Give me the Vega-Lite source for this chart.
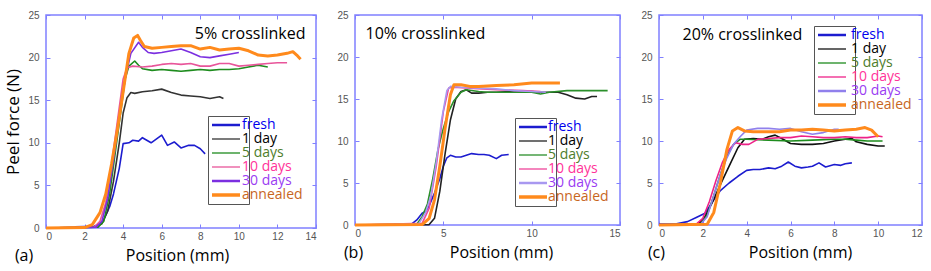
{
  "$schema": "https://vega.github.io/schema/vega-lite/v6.json",
  "background": "white",
  "padding": {"left": 4, "top": 9, "right": 0, "bottom": 0},
  "spacing": 18,
  "align": "none",
  "resolve": {"scale": {"color": "independent", "shape": "independent"}, "legend": {"color": "independent", "shape": "independent"}},
  "config": {
    "view": {"stroke": "#8080ff", "strokeWidth": 1.5},
    "axis": {"domain": false, "grid": false, "tickColor": "#8080ff", "tickSize": -4, "tickWidth": 1, "labelFont": "Liberation Sans", "labelFontSize": 10, "labelColor": "#555555", "titleFont": "Open Sans", "titleFontWeight": "normal", "titleColor": "#000000", "titleFontSize": 16},
    "axisBottom": {"labelPadding": 7, "titlePadding": 6},
    "axisLeft": {"labelPadding": 11, "titlePadding": 5, "titleFontSize": 17},
    "legend": {"labelFont": "Open Sans", "labelFontSize": 14, "rowPadding": 0, "symbolSize": 100},
    "title": {"font": "Open Sans", "fontSize": 16, "fontWeight": "normal", "color": "#000000"}
  },
  "datasets": {
    "a": [
      {"series":"fresh","pos":1.5,"force":0.15},{"series":"fresh","pos":2.5,"force":0.2},{"series":"fresh","pos":2.8,"force":0.5},{"series":"fresh","pos":3.0,"force":1.0},{"series":"fresh","pos":3.3,"force":2.5},{"series":"fresh","pos":3.5,"force":4},{"series":"fresh","pos":3.8,"force":7},{"series":"fresh","pos":4.0,"force":9.9},{"series":"fresh","pos":4.3,"force":10.0},{"series":"fresh","pos":4.5,"force":10.3},{"series":"fresh","pos":4.8,"force":10.2},{"series":"fresh","pos":5.0,"force":10.6},{"series":"fresh","pos":5.45,"force":10.0},{"series":"fresh","pos":6.0,"force":10.9},{"series":"fresh","pos":6.3,"force":9.7},{"series":"fresh","pos":6.65,"force":10.1},{"series":"fresh","pos":7.0,"force":9.4},{"series":"fresh","pos":7.4,"force":9.7},{"series":"fresh","pos":7.7,"force":9.7},{"series":"fresh","pos":8.0,"force":9.3},{"series":"fresh","pos":8.25,"force":8.7},
      {"series":"1 day","pos":0,"force":0},{"series":"1 day","pos":2.5,"force":0.1},{"series":"1 day","pos":2.9,"force":0.5},{"series":"1 day","pos":3.2,"force":2},{"series":"1 day","pos":3.5,"force":5.5},{"series":"1 day","pos":3.8,"force":10},{"series":"1 day","pos":4.0,"force":13.5},{"series":"1 day","pos":4.2,"force":15.3},{"series":"1 day","pos":4.4,"force":15.9},{"series":"1 day","pos":4.6,"force":15.8},{"series":"1 day","pos":5.0,"force":16.0},{"series":"1 day","pos":5.5,"force":16.1},{"series":"1 day","pos":6.0,"force":16.3},{"series":"1 day","pos":6.5,"force":15.9},{"series":"1 day","pos":7.0,"force":15.6},{"series":"1 day","pos":7.5,"force":15.5},{"series":"1 day","pos":8.0,"force":15.4},{"series":"1 day","pos":8.5,"force":15.2},{"series":"1 day","pos":9.0,"force":15.4},{"series":"1 day","pos":9.2,"force":15.2},
      {"series":"5 days","pos":0,"force":0},{"series":"5 days","pos":2.7,"force":0.1},{"series":"5 days","pos":3.0,"force":0.8},{"series":"5 days","pos":3.3,"force":4},{"series":"5 days","pos":3.6,"force":9},{"series":"5 days","pos":3.9,"force":14},{"series":"5 days","pos":4.1,"force":17.5},{"series":"5 days","pos":4.3,"force":19},{"series":"5 days","pos":4.6,"force":19.6},{"series":"5 days","pos":4.8,"force":19.1},{"series":"5 days","pos":5.0,"force":18.7},{"series":"5 days","pos":5.5,"force":18.5},{"series":"5 days","pos":6.0,"force":18.6},{"series":"5 days","pos":6.5,"force":18.5},{"series":"5 days","pos":7.0,"force":18.4},{"series":"5 days","pos":7.5,"force":18.5},{"series":"5 days","pos":8.0,"force":18.6},{"series":"5 days","pos":8.5,"force":18.5},{"series":"5 days","pos":9.0,"force":18.6},{"series":"5 days","pos":9.5,"force":18.6},{"series":"5 days","pos":10.0,"force":18.7},{"series":"5 days","pos":10.5,"force":18.9},{"series":"5 days","pos":11.0,"force":19.1},{"series":"5 days","pos":11.5,"force":18.9},
      {"series":"10 days","pos":0,"force":0},{"series":"10 days","pos":2.5,"force":0.1},{"series":"10 days","pos":2.8,"force":0.8},{"series":"10 days","pos":3.1,"force":3},{"series":"10 days","pos":3.4,"force":7.5},{"series":"10 days","pos":3.7,"force":12.5},{"series":"10 days","pos":4.0,"force":17.5},{"series":"10 days","pos":4.2,"force":18.8},{"series":"10 days","pos":4.5,"force":19.0},{"series":"10 days","pos":5.0,"force":18.9},{"series":"10 days","pos":5.5,"force":19.0},{"series":"10 days","pos":6.0,"force":19.2},{"series":"10 days","pos":6.5,"force":19.3},{"series":"10 days","pos":7.0,"force":19.2},{"series":"10 days","pos":7.5,"force":19.3},{"series":"10 days","pos":8.0,"force":19.0},{"series":"10 days","pos":8.5,"force":19.0},{"series":"10 days","pos":9.0,"force":19.3},{"series":"10 days","pos":9.5,"force":19.3},{"series":"10 days","pos":10.0,"force":19.0},{"series":"10 days","pos":10.5,"force":19.1},{"series":"10 days","pos":11.0,"force":19.2},{"series":"10 days","pos":11.5,"force":19.3},{"series":"10 days","pos":12.0,"force":19.4},{"series":"10 days","pos":12.5,"force":19.4},
      {"series":"30 days","pos":0,"force":0},{"series":"30 days","pos":2.6,"force":0.1},{"series":"30 days","pos":2.9,"force":0.8},{"series":"30 days","pos":3.2,"force":3.5},{"series":"30 days","pos":3.5,"force":8},{"series":"30 days","pos":3.8,"force":13},{"series":"30 days","pos":4.1,"force":17.5},{"series":"30 days","pos":4.4,"force":20.5},{"series":"30 days","pos":4.8,"force":21.8},{"series":"30 days","pos":5.0,"force":21.2},{"series":"30 days","pos":5.3,"force":20.6},{"series":"30 days","pos":5.6,"force":20.5},{"series":"30 days","pos":6.0,"force":20.6},{"series":"30 days","pos":6.5,"force":20.8},{"series":"30 days","pos":7.0,"force":21.0},{"series":"30 days","pos":7.5,"force":20.6},{"series":"30 days","pos":8.0,"force":20.1},{"series":"30 days","pos":8.5,"force":20.0},{"series":"30 days","pos":9.0,"force":20.2},{"series":"30 days","pos":9.5,"force":20.4},{"series":"30 days","pos":10.0,"force":20.6},
      {"series":"annealed","pos":0,"force":0},{"series":"annealed","pos":2.0,"force":0.05},{"series":"annealed","pos":2.4,"force":0.4},{"series":"annealed","pos":2.8,"force":1.8},{"series":"annealed","pos":3.1,"force":4},{"series":"annealed","pos":3.4,"force":7.5},{"series":"annealed","pos":3.7,"force":11.5},{"series":"annealed","pos":4.0,"force":16},{"series":"annealed","pos":4.3,"force":20.5},{"series":"annealed","pos":4.55,"force":22.3},{"series":"annealed","pos":4.75,"force":22.6},{"series":"annealed","pos":4.9,"force":22.0},{"series":"annealed","pos":5.1,"force":21.3},{"series":"annealed","pos":5.5,"force":21.1},{"series":"annealed","pos":6.0,"force":21.2},{"series":"annealed","pos":6.5,"force":21.3},{"series":"annealed","pos":7.0,"force":21.4},{"series":"annealed","pos":7.5,"force":21.4},{"series":"annealed","pos":8.0,"force":21.0},{"series":"annealed","pos":8.5,"force":21.2},{"series":"annealed","pos":9.0,"force":20.9},{"series":"annealed","pos":9.5,"force":21.0},{"series":"annealed","pos":10.0,"force":21.1},{"series":"annealed","pos":10.5,"force":20.8},{"series":"annealed","pos":11.0,"force":20.3},{"series":"annealed","pos":11.5,"force":20.2},{"series":"annealed","pos":12.0,"force":20.3},{"series":"annealed","pos":12.5,"force":20.5},{"series":"annealed","pos":12.8,"force":20.7},{"series":"annealed","pos":13.0,"force":20.3},{"series":"annealed","pos":13.2,"force":19.8}
    ],
    "b": [
      {"series":"fresh","pos":2.2,"force":0.1},{"series":"fresh","pos":3.2,"force":0.1},{"series":"fresh","pos":3.5,"force":0.6},{"series":"fresh","pos":3.8,"force":1.4},{"series":"fresh","pos":4.0,"force":1.6},{"series":"fresh","pos":4.2,"force":2.3},{"series":"fresh","pos":4.5,"force":3.8},{"series":"fresh","pos":4.8,"force":5.5},{"series":"fresh","pos":5.0,"force":7.0},{"series":"fresh","pos":5.2,"force":8.0},{"series":"fresh","pos":5.4,"force":8.3},{"series":"fresh","pos":5.7,"force":8.1},{"series":"fresh","pos":6.0,"force":8.1},{"series":"fresh","pos":6.3,"force":8.3},{"series":"fresh","pos":6.6,"force":8.5},{"series":"fresh","pos":7.0,"force":8.4},{"series":"fresh","pos":7.3,"force":8.4},{"series":"fresh","pos":7.6,"force":8.3},{"series":"fresh","pos":8.0,"force":7.9},{"series":"fresh","pos":8.3,"force":8.3},{"series":"fresh","pos":8.7,"force":8.4},
      {"series":"1 day","pos":0,"force":0},{"series":"1 day","pos":4.2,"force":0.05},{"series":"1 day","pos":4.5,"force":0.8},{"series":"1 day","pos":4.8,"force":4},{"series":"1 day","pos":5.1,"force":8.5},{"series":"1 day","pos":5.4,"force":12.5},{"series":"1 day","pos":5.7,"force":15},{"series":"1 day","pos":6.0,"force":15.9},{"series":"1 day","pos":6.3,"force":16.1},{"series":"1 day","pos":6.6,"force":15.7},{"series":"1 day","pos":7.0,"force":15.7},{"series":"1 day","pos":7.5,"force":15.8},{"series":"1 day","pos":8.0,"force":15.8},{"series":"1 day","pos":9.0,"force":15.9},{"series":"1 day","pos":10.0,"force":15.9},{"series":"1 day","pos":10.5,"force":15.8},{"series":"1 day","pos":11.0,"force":15.8},{"series":"1 day","pos":11.5,"force":15.8},{"series":"1 day","pos":12.0,"force":15.5},{"series":"1 day","pos":12.5,"force":15.1},{"series":"1 day","pos":13.0,"force":15.0},{"series":"1 day","pos":13.4,"force":15.3},{"series":"1 day","pos":13.7,"force":15.3},
      {"series":"5 days","pos":0,"force":0},{"series":"5 days","pos":3.5,"force":0.1},{"series":"5 days","pos":3.8,"force":1},{"series":"5 days","pos":4.1,"force":2.5},{"series":"5 days","pos":4.4,"force":5.5},{"series":"5 days","pos":4.7,"force":9},{"series":"5 days","pos":5.0,"force":11.5},{"series":"5 days","pos":5.3,"force":13.5},{"series":"5 days","pos":5.6,"force":14.8},{"series":"5 days","pos":6.0,"force":15.8},{"series":"5 days","pos":6.3,"force":16.1},{"series":"5 days","pos":7.0,"force":15.9},{"series":"5 days","pos":7.5,"force":15.8},{"series":"5 days","pos":8.0,"force":15.8},{"series":"5 days","pos":9.0,"force":15.8},{"series":"5 days","pos":10.0,"force":15.8},{"series":"5 days","pos":10.5,"force":15.6},{"series":"5 days","pos":11.0,"force":15.8},{"series":"5 days","pos":12.0,"force":16.0},{"series":"5 days","pos":13.0,"force":16.0},{"series":"5 days","pos":14.3,"force":16.0},
      {"series":"10 days","pos":0,"force":0},{"series":"10 days","pos":3.8,"force":0.2},{"series":"10 days","pos":4.2,"force":2},{"series":"10 days","pos":4.6,"force":7},{"series":"10 days","pos":5.0,"force":13.5},{"series":"10 days","pos":5.3,"force":16.3},{"series":"10 days","pos":5.6,"force":16.4},{"series":"10 days","pos":6.5,"force":16.3},{"series":"10 days","pos":8.0,"force":16.1},{"series":"10 days","pos":9.5,"force":16.0},{"series":"10 days","pos":10.5,"force":15.9},
      {"series":"30 days","pos":0,"force":0},{"series":"30 days","pos":3.6,"force":0.1},{"series":"30 days","pos":4.0,"force":1.5},{"series":"30 days","pos":4.3,"force":3.5},{"series":"30 days","pos":4.6,"force":7.5},{"series":"30 days","pos":4.9,"force":12.5},{"series":"30 days","pos":5.2,"force":16.0},{"series":"30 days","pos":5.4,"force":16.5},{"series":"30 days","pos":6.0,"force":16.4},{"series":"30 days","pos":7.0,"force":16.3},{"series":"30 days","pos":8.0,"force":16.2},{"series":"30 days","pos":9.0,"force":16.0},{"series":"30 days","pos":10.0,"force":15.9},{"series":"30 days","pos":10.8,"force":15.8},
      {"series":"annealed","pos":0,"force":0},{"series":"annealed","pos":3.8,"force":0.05},{"series":"annealed","pos":4.2,"force":0.8},{"series":"annealed","pos":4.5,"force":3},{"series":"annealed","pos":4.8,"force":7},{"series":"annealed","pos":5.1,"force":11.5},{"series":"annealed","pos":5.4,"force":15.5},{"series":"annealed","pos":5.6,"force":16.7},{"series":"annealed","pos":6.0,"force":16.7},{"series":"annealed","pos":6.5,"force":16.5},{"series":"annealed","pos":7.0,"force":16.5},{"series":"annealed","pos":8.0,"force":16.6},{"series":"annealed","pos":9.0,"force":16.7},{"series":"annealed","pos":10.0,"force":16.9},{"series":"annealed","pos":11.0,"force":16.9},{"series":"annealed","pos":11.6,"force":16.9}
    ],
    "c": [
      {"series":"fresh","pos":0,"force":0.1},{"series":"fresh","pos":0.8,"force":0.15},{"series":"fresh","pos":1.3,"force":0.4},{"series":"fresh","pos":1.7,"force":0.9},{"series":"fresh","pos":2.1,"force":1.4},{"series":"fresh","pos":2.4,"force":2.6},{"series":"fresh","pos":2.8,"force":4.1},{"series":"fresh","pos":3.2,"force":5.0},{"series":"fresh","pos":3.6,"force":5.8},{"series":"fresh","pos":4.0,"force":6.5},{"series":"fresh","pos":4.3,"force":6.6},{"series":"fresh","pos":4.6,"force":6.6},{"series":"fresh","pos":5.0,"force":6.8},{"series":"fresh","pos":5.3,"force":6.7},{"series":"fresh","pos":5.6,"force":7.0},{"series":"fresh","pos":5.9,"force":7.5},{"series":"fresh","pos":6.2,"force":7.0},{"series":"fresh","pos":6.5,"force":6.8},{"series":"fresh","pos":6.8,"force":6.9},{"series":"fresh","pos":7.0,"force":7.0},{"series":"fresh","pos":7.3,"force":7.4},{"series":"fresh","pos":7.6,"force":6.9},{"series":"fresh","pos":8.0,"force":7.2},{"series":"fresh","pos":8.3,"force":7.1},{"series":"fresh","pos":8.5,"force":7.3},{"series":"fresh","pos":8.8,"force":7.4},
      {"series":"1 day","pos":0,"force":0},{"series":"1 day","pos":1.8,"force":0.1},{"series":"1 day","pos":2.1,"force":1},{"series":"1 day","pos":2.4,"force":2.5},{"series":"1 day","pos":2.8,"force":4.8},{"series":"1 day","pos":3.2,"force":7},{"series":"1 day","pos":3.6,"force":9.2},{"series":"1 day","pos":3.9,"force":10.2},{"series":"1 day","pos":4.3,"force":10.3},{"series":"1 day","pos":4.7,"force":10.2},{"series":"1 day","pos":5.0,"force":10.5},{"series":"1 day","pos":5.3,"force":10.7},{"series":"1 day","pos":5.6,"force":10.3},{"series":"1 day","pos":6.0,"force":9.7},{"series":"1 day","pos":6.5,"force":9.6},{"series":"1 day","pos":7.0,"force":9.6},{"series":"1 day","pos":7.5,"force":9.7},{"series":"1 day","pos":8.0,"force":10.0},{"series":"1 day","pos":8.5,"force":10.2},{"series":"1 day","pos":8.8,"force":10.3},{"series":"1 day","pos":9.0,"force":9.9},{"series":"1 day","pos":9.5,"force":9.6},{"series":"1 day","pos":10.0,"force":9.4},{"series":"1 day","pos":10.3,"force":9.4},
      {"series":"5 days","pos":0,"force":0},{"series":"5 days","pos":1.9,"force":0.1},{"series":"5 days","pos":2.2,"force":1.2},{"series":"5 days","pos":2.5,"force":3.5},{"series":"5 days","pos":2.8,"force":6},{"series":"5 days","pos":3.1,"force":8.2},{"series":"5 days","pos":3.4,"force":9.6},{"series":"5 days","pos":3.7,"force":10.2},{"series":"5 days","pos":4.0,"force":10.2},{"series":"5 days","pos":5.0,"force":10.1},{"series":"5 days","pos":6.0,"force":10.0},{"series":"5 days","pos":7.0,"force":10.1},{"series":"5 days","pos":8.0,"force":10.2},{"series":"5 days","pos":8.5,"force":10.2},{"series":"5 days","pos":9.0,"force":10.1},{"series":"5 days","pos":9.5,"force":10.0},{"series":"5 days","pos":10.2,"force":10.0},
      {"series":"10 days","pos":0,"force":0},{"series":"10 days","pos":1.7,"force":0.1},{"series":"10 days","pos":2.0,"force":0.8},{"series":"10 days","pos":2.3,"force":2.8},{"series":"10 days","pos":2.6,"force":5.3},{"series":"10 days","pos":2.9,"force":7.5},{"series":"10 days","pos":3.2,"force":9},{"series":"10 days","pos":3.5,"force":9.8},{"series":"10 days","pos":3.8,"force":9.6},{"series":"10 days","pos":4.1,"force":9.6},{"series":"10 days","pos":4.5,"force":10.2},{"series":"10 days","pos":5.0,"force":10.3},{"series":"10 days","pos":5.5,"force":10.4},{"series":"10 days","pos":6.0,"force":10.4},{"series":"10 days","pos":6.5,"force":10.6},{"series":"10 days","pos":7.0,"force":10.5},{"series":"10 days","pos":7.5,"force":10.4},{"series":"10 days","pos":8.0,"force":10.4},{"series":"10 days","pos":8.5,"force":10.5},{"series":"10 days","pos":9.0,"force":10.4},{"series":"10 days","pos":9.5,"force":10.4},{"series":"10 days","pos":10.0,"force":10.6},{"series":"10 days","pos":10.2,"force":10.5},
      {"series":"30 days","pos":0,"force":0},{"series":"30 days","pos":1.9,"force":0.1},{"series":"30 days","pos":2.2,"force":1},{"series":"30 days","pos":2.5,"force":3.5},{"series":"30 days","pos":2.8,"force":6},{"series":"30 days","pos":3.1,"force":8},{"series":"30 days","pos":3.4,"force":9.6},{"series":"30 days","pos":3.7,"force":10.5},{"series":"30 days","pos":4.0,"force":11.3},{"series":"30 days","pos":4.5,"force":11.5},{"series":"30 days","pos":5.0,"force":11.5},{"series":"30 days","pos":5.5,"force":11.4},{"series":"30 days","pos":6.0,"force":11.5},{"series":"30 days","pos":6.5,"force":11.1},{"series":"30 days","pos":7.0,"force":10.8},{"series":"30 days","pos":7.5,"force":11.0},{"series":"30 days","pos":8.0,"force":11.4},{"series":"30 days","pos":8.2,"force":11.4},
      {"series":"annealed","pos":0,"force":0},{"series":"annealed","pos":2.2,"force":0.1},{"series":"annealed","pos":2.5,"force":1.5},{"series":"annealed","pos":2.8,"force":5},{"series":"annealed","pos":3.1,"force":9},{"series":"annealed","pos":3.35,"force":11.2},{"series":"annealed","pos":3.6,"force":11.6},{"series":"annealed","pos":3.9,"force":11.2},{"series":"annealed","pos":4.3,"force":11.1},{"series":"annealed","pos":5.0,"force":11.1},{"series":"annealed","pos":5.5,"force":11.1},{"series":"annealed","pos":6.0,"force":11.3},{"series":"annealed","pos":6.5,"force":11.3},{"series":"annealed","pos":7.0,"force":11.4},{"series":"annealed","pos":7.5,"force":11.3},{"series":"annealed","pos":8.0,"force":11.2},{"series":"annealed","pos":8.5,"force":11.3},{"series":"annealed","pos":9.0,"force":11.4},{"series":"annealed","pos":9.4,"force":11.6},{"series":"annealed","pos":9.7,"force":11.3},{"series":"annealed","pos":10.0,"force":10.5}
    ]
  },
  "hconcat": [
    {
      "width": 270, "height": 213,
      "data": {"name": "a"},
      "title": {"text": "(a)", "orient": "bottom", "anchor": "start", "dx": 10, "offset": -15},
      "layer": [
        {
          "mark": {"type": "line", "strokeJoin": "round"},
          "encoding": {
            "x": {"field": "pos", "type": "quantitative", "scale": {"domain": [0, 14], "nice": false}, "axis": {"orient": "bottom", "values": [0, 2, 4, 6, 8, 10, 12, 14], "title": "Position (mm)", "titleX": 131}},
            "y": {"field": "force", "type": "quantitative", "scale": {"domain": [0, 25], "nice": false}, "axis": {"orient": "left", "values": [0, 5, 10, 15, 20, 25], "title": "Peel force (N)"}},
            "color": {"field": "series", "type": "nominal",
              "scale": {"domain": ["fresh", "1 day", "5 days", "10 days", "30 days", "annealed"], "range": ["#1c1ccf", "#333333", "#1e8c1e", "#e8559a", "#7b2fe0", "#ff8a1c"]},
              "legend": {"orient": "none", "legendX": 162, "legendY": 101, "title": null, "symbolType": "M-1,0L4.6,0", "labelExpr": "''", "labelOffset": 0, "padding": 2, "strokeColor": "#555555",
                "symbolStrokeWidth": {"expr": "datum.value === 'annealed' ? 3.5 : (datum.value === 'fresh' || datum.value === '30 days') ? 2.5 : 1.3"}}},
            "strokeWidth": {"condition": {"test": "datum.series === 'annealed'", "value": 3}, "value": 1.6}
          }
        },
        {
          "mark": {"type": "point", "opacity": 0},
          "encoding": {
            "x": {"field": "pos", "type": "quantitative", "axis": {"orient": "top", "labels": false, "values": [0, 2, 4, 6, 8, 10, 12, 14], "title": "5% crosslinked", "titleX": 259, "titleY": 23, "titleAlign": "right", "titleBaseline": "alphabetic", "titleAngle": 0}},
            "y": {"field": "force", "type": "quantitative", "axis": {"orient": "right", "labels": false, "values": [0, 5, 10, 15, 20, 25], "title": null}},
            "shape": {"field": "series", "type": "nominal", "sort": ["fresh", "1 day", "5 days", "10 days", "30 days", "annealed"],
              "legend": {"orient": "none", "legendX": 182, "legendY": 103, "title": null, "symbolOpacity": 0, "labelOffset": 0, "padding": 0,
                "labelColor": {"expr": "datum.value === 'fresh' ? '#0000ee' : datum.value === '1 day' ? '#000000' : datum.value === '5 days' ? '#4e7d2c' : datum.value === '10 days' ? '#ff3399' : datum.value === '30 days' ? '#9a3cf2' : '#c8661e'"}}}
          }
        }
      ],
      "resolve": {"axis": {"x": "independent", "y": "independent"}}
    },
    {
      "width": 265, "height": 210,
      "data": {"name": "b"},
      "title": {"text": "(b)", "orient": "bottom", "anchor": "start", "dx": 7, "offset": -15},
      "layer": [
        {
          "mark": {"type": "line", "strokeJoin": "round"},
          "encoding": {
            "x": {"field": "pos", "type": "quantitative", "scale": {"domain": [0, 15], "nice": false}, "axis": {"orient": "bottom", "values": [0, 5, 10, 15], "title": "Position (mm)", "titleX": 146}},
            "y": {"field": "force", "type": "quantitative", "scale": {"domain": [0, 25], "nice": false}, "axis": {"orient": "left", "values": [0, 5, 10, 15, 20, 25], "title": null}},
            "color": {"field": "series", "type": "nominal",
              "scale": {"domain": ["fresh", "1 day", "5 days", "10 days", "30 days", "annealed"], "range": ["#1c1ccf", "#222222", "#2a8f2a", "#ee4499", "#a898f0", "#ff8a1c"]},
              "legend": {"orient": "none", "legendX": 160, "legendY": 103, "title": null, "symbolType": "M-1,0L4.6,0", "labelExpr": "''", "labelOffset": 0, "padding": 2, "strokeColor": "#555555",
                "symbolStrokeWidth": {"expr": "datum.value === 'annealed' ? 3.5 : (datum.value === 'fresh' || datum.value === '30 days') ? 2.5 : 1.3"}}},
            "strokeWidth": {"condition": {"test": "datum.series === 'annealed'", "value": 3}, "value": 1.6}
          }
        },
        {
          "mark": {"type": "point", "opacity": 0},
          "encoding": {
            "x": {"field": "pos", "type": "quantitative", "axis": {"orient": "top", "labels": false, "values": [0, 5, 10, 15], "title": "10% crosslinked", "titleX": 10, "titleY": 23, "titleAlign": "left", "titleBaseline": "alphabetic", "titleAngle": 0}},
            "y": {"field": "force", "type": "quantitative", "axis": {"orient": "right", "labels": false, "values": [0, 5, 10, 15, 20, 25], "title": null}},
            "shape": {"field": "series", "type": "nominal", "sort": ["fresh", "1 day", "5 days", "10 days", "30 days", "annealed"],
              "legend": {"orient": "none", "legendX": 179, "legendY": 105, "title": null, "symbolOpacity": 0, "labelOffset": 0, "padding": 0,
                "labelColor": {"expr": "datum.value === 'fresh' ? '#0000ee' : datum.value === '1 day' ? '#000000' : datum.value === '5 days' ? '#4e7d2c' : datum.value === '10 days' ? '#ff3399' : datum.value === '30 days' ? '#9a3cf2' : '#c8661e'"}}}
          }
        }
      ],
      "resolve": {"axis": {"x": "independent", "y": "independent"}}
    },
    {
      "width": 263, "height": 210,
      "data": {"name": "c"},
      "title": {"text": "(c)", "orient": "bottom", "anchor": "start", "dx": 7, "offset": -15},
      "layer": [
        {
          "mark": {"type": "line", "strokeJoin": "round"},
          "encoding": {
            "x": {"field": "pos", "type": "quantitative", "scale": {"domain": [0, 12], "nice": false}, "axis": {"orient": "bottom", "values": [0, 2, 4, 6, 8, 10, 12], "title": "Position (mm)", "titleX": 141}},
            "y": {"field": "force", "type": "quantitative", "scale": {"domain": [0, 25], "nice": false}, "axis": {"orient": "left", "values": [0, 5, 10, 15, 20, 25], "title": null}},
            "color": {"field": "series", "type": "nominal",
              "scale": {"domain": ["fresh", "1 day", "5 days", "10 days", "30 days", "annealed"], "range": ["#1c1ccf", "#111111", "#1e8c1e", "#ee2288", "#9080ec", "#ff8a1c"]},
              "legend": {"orient": "none", "legendX": 155, "legendY": 11, "title": null, "symbolType": "M-1,0L4.6,0", "labelExpr": "''", "labelOffset": 0, "padding": 2, "strokeColor": "#555555",
                "symbolStrokeWidth": {"expr": "datum.value === 'annealed' ? 3.5 : (datum.value === 'fresh' || datum.value === '30 days') ? 2.5 : 1.3"}}},
            "strokeWidth": {"condition": {"test": "datum.series === 'annealed'", "value": 3}, "value": 1.6}
          }
        },
        {
          "mark": {"type": "point", "opacity": 0},
          "encoding": {
            "x": {"field": "pos", "type": "quantitative", "axis": {"orient": "top", "labels": false, "values": [0, 2, 4, 6, 8, 10, 12], "title": "20% crosslinked", "titleX": 23, "titleY": 24, "titleAlign": "left", "titleBaseline": "alphabetic", "titleAngle": 0}},
            "y": {"field": "force", "type": "quantitative", "axis": {"orient": "right", "labels": false, "values": [0, 5, 10, 15, 20, 25], "title": null}},
            "shape": {"field": "series", "type": "nominal", "sort": ["fresh", "1 day", "5 days", "10 days", "30 days", "annealed"],
              "legend": {"orient": "none", "legendX": 178, "legendY": 13, "title": null, "symbolOpacity": 0, "labelOffset": 0, "padding": 0,
                "labelColor": {"expr": "datum.value === 'fresh' ? '#0000ee' : datum.value === '1 day' ? '#000000' : datum.value === '5 days' ? '#4e7d2c' : datum.value === '10 days' ? '#ff3399' : datum.value === '30 days' ? '#9a3cf2' : '#c8661e'"}}}
          }
        }
      ],
      "resolve": {"axis": {"x": "independent", "y": "independent"}}
    }
  ]
}
